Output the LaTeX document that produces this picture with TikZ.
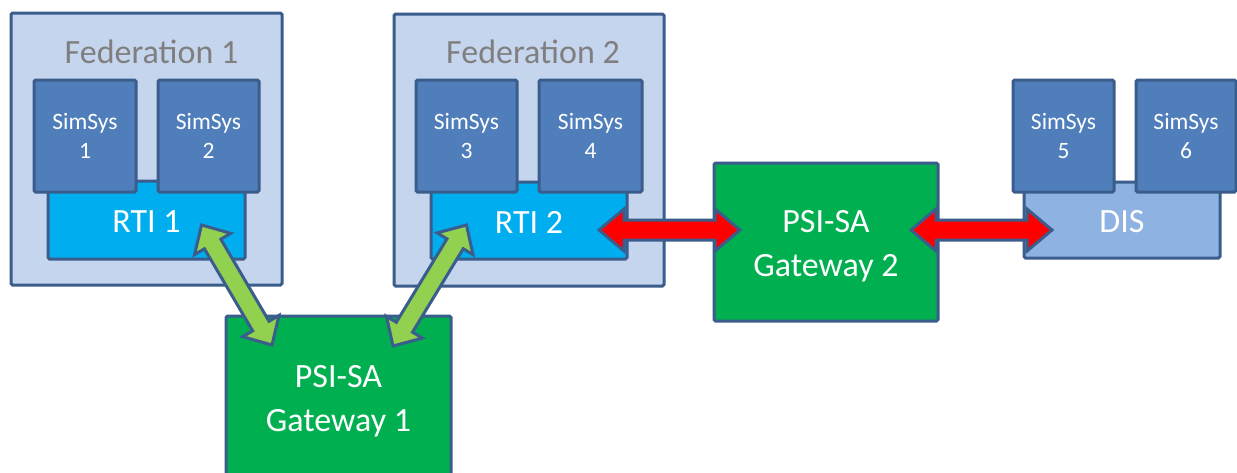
\documentclass[tikz,border=0pt]{standalone}
\usepackage{fontspec}
\setmainfont{Carlito}
\usetikzlibrary{calc}
\definecolor{bordc}{HTML}{3A5D8C}
\definecolor{fedc}{HTML}{C6D5EE}
\definecolor{simc}{HTML}{4F7EBB}
\definecolor{rtic}{HTML}{00AEEF}
\definecolor{disc}{HTML}{8EB3E2}
\definecolor{gwc}{HTML}{00B050}
\definecolor{grc}{HTML}{92D050}
\definecolor{fedtxt}{HTML}{7F7F7F}
\newcommand\bigtxt{\fontsize{34}{44}\selectfont}
\newcommand\smalltxt{\fontsize{23.5}{29.5}\selectfont}
% #1 style, #2 #3 tips, #4 head length, #5 head half width, #6 shaft half width
\newcommand\blockarrow[6]{%
  \draw[#1] (#2) -- ($(#2)!#4!(#3)!#5!90:(#3)$) -- ($(#2)!#4!(#3)!#6!90:(#3)$)
   -- ($(#3)!#4!(#2)!#6!-90:(#2)$) -- ($(#3)!#4!(#2)!#5!-90:(#2)$) -- (#3)
   -- ($(#3)!#4!(#2)!#5!90:(#2)$) -- ($(#3)!#4!(#2)!#6!90:(#2)$)
   -- ($(#2)!#4!(#3)!#6!-90:(#3)$) -- ($(#2)!#4!(#3)!#5!-90:(#3)$) -- cycle;}
\tikzset{
  wh/.style 2 args={minimum width=#1pt, minimum height=#2pt},
  bx/.style={draw=bordc, line width=3pt, rounded corners=1.5pt, inner sep=0pt, text=white},
  fedbox/.style={bx, fill=fedc},
  rtibox/.style={bx, fill=rtic, font=\bigtxt, text height=25pt, text depth=0pt},
  disbox/.style={bx, fill=disc, font=\bigtxt, text height=25pt, text depth=0pt},
  simbox/.style={bx, fill=simc, font=\smalltxt, align=center, wh={102}{112}},
  gwbox/.style={bx, fill=gwc},
  gwtext/.style={text=white, font=\bigtxt, align=center, inner sep=0pt, yshift=-4pt},
  fedlabel/.style={inner sep=0pt, anchor=base, text=fedtxt, font=\bigtxt},
  greenarrow/.style={draw=bordc, fill=grc, line width=3pt, line join=miter},
  redarrow/.style={draw=bordc, fill=red, line width=3pt, line join=miter}
}
\begin{document}
\begin{tikzpicture}[x=1pt,y=-1pt]
\useasboundingbox (0,0) rectangle (1237,472);
\fill[white] (0,0) rectangle (1237,472);
\clip (0,0) rectangle (1237,472);
% federations
\node[fedbox, wh={271}{272}] (fed1) at (146.5,149) {};
\node[fedbox, wh={270}{272}] (fed2) at (529,150) {};
\node[fedlabel] (fed1l) at (151.5,63) {Federation 1};
\node[fedlabel] (fed2l) at (533,63) {Federation 2};
% RTIs
\node[rtibox, wh={197}{78}] (rti1) at (146.5,220) {RTI 1};
\node[rtibox, wh={196}{77}] (rti2) at (529,220.5) {RTI 2};
\node[disbox, wh={196}{76}] (dis) at (1122,220) {DIS};
% SimSys
\node[simbox] (s1) at (85,136) {SimSys\\1};
\node[simbox, wh={101}{112}] (s2) at (208.5,136) {SimSys\\2};
\node[simbox, wh={101}{112}] (s3) at (466.5,136) {SimSys\\3};
\node[simbox, wh={103}{112}] (s4) at (590.5,136) {SimSys\\4};
\node[simbox, wh={101}{112}] (s5) at (1063.5,136) {SimSys\\5};
\node[simbox, wh={100}{112}] (s6) at (1186,136) {SimSys\\6};
% gateways
\node[gwbox, wh={225}{163}, label={[gwtext, name=gw1t]center:PSI-SA\\Gateway 1}] (gw1) at (338.5,397.5) {};
\node[gwbox, wh={224}{158}, label={[gwtext, name=gw2t]center:PSI-SA\\Gateway 2}] (gw2) at (826,242) {};
% arrow ends
\coordinate (g1a) at ($(rti1)+(55,5)$);
\coordinate (g1b) at ($(gw1)+(-66.5,-52.5)$);
\coordinate (g2a) at ($(rti2)+(-62.5,4.5)$);
\coordinate (g2b) at ($(gw1)+(54.5,-51.5)$);
\coordinate (r1a) at ($(rti2)+(70,9.5)$);
\coordinate (r1b) at ($(gw2)+(-86,-12)$);
\coordinate (r2a) at ($(gw2)+(85,-12)$);
\coordinate (r2b) at ($(dis)+(-70,10)$);
% arrows
\blockarrow{greenarrow}{g1a}{g1b}{22pt}{21pt}{9.5pt}
\blockarrow{greenarrow}{g2a}{g2b}{22pt}{21pt}{9.5pt}
\blockarrow{redarrow}{r1a}{r1b}{25pt}{21pt}{10pt}
\blockarrow{redarrow}{r2a}{r2b}{25pt}{21pt}{10pt}
\end{tikzpicture}
\end{document}
